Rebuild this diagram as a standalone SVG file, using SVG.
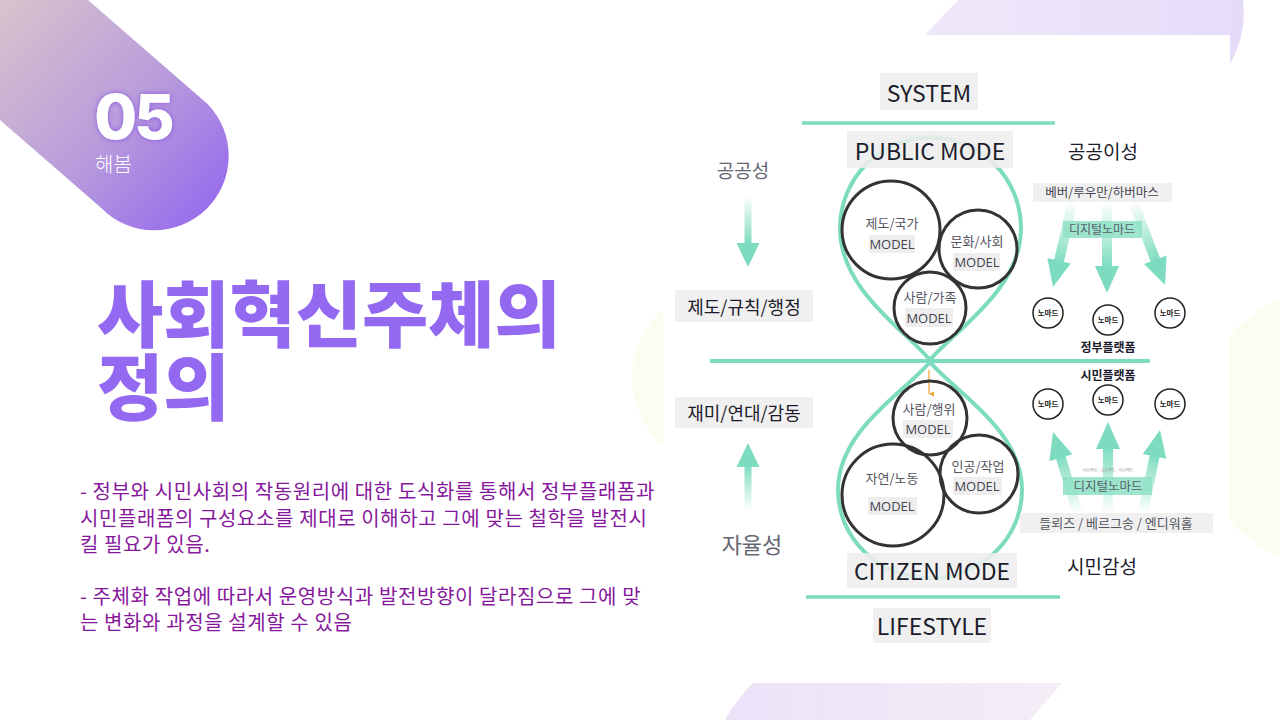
<svg xmlns="http://www.w3.org/2000/svg" width="1280" height="720" viewBox="0 0 1280 720">
<defs>
<linearGradient id="badgeGrad" x1="0" y1="0" x2="240" y2="230" gradientUnits="userSpaceOnUse">
<stop offset="0" stop-color="#d8c4cc"/>
<stop offset="0.5" stop-color="#b99ddb"/>
<stop offset="1" stop-color="#9060f0"/>
</linearGradient>
<linearGradient id="lavTop" x1="0" y1="0" x2="1" y2="0">
<stop offset="0" stop-color="#efe8f8"/>
<stop offset="1" stop-color="#e6dcfa"/>
</linearGradient>
<linearGradient id="lavBot" x1="0" y1="0" x2="1" y2="0">
<stop offset="0" stop-color="#ebe2f8"/>
<stop offset="1" stop-color="#f3eef6"/>
</linearGradient>
<linearGradient id="fadeTop" x1="0" y1="0" x2="0" y2="1">
<stop offset="0" stop-color="#7ddcbf" stop-opacity="0"/>
<stop offset="1" stop-color="#7ddcbf" stop-opacity="1"/>
</linearGradient>
<linearGradient id="fadeBot" x1="0" y1="0" x2="0" y2="1">
<stop offset="0" stop-color="#7ddcbf" stop-opacity="1"/>
<stop offset="1" stop-color="#7ddcbf" stop-opacity="0"/>
</linearGradient>
<filter id="glow" x="-30%" y="-30%" width="160%" height="160%">
<feDropShadow dx="0" dy="0" stdDeviation="2.5" flood-color="#7a3ee0" flood-opacity="0.8"/>
</filter>
<marker id="orangeHead" viewBox="0 0 10 10" refX="5" refY="10" markerWidth="5" markerHeight="5" orient="auto-start-reverse" markerUnits="userSpaceOnUse">
<path d="M0,0 L5,10 L10,0 Z" fill="#f0a030"/>
</marker>
<style>
.lat{font-family:"Open Sans","Noto Sans CJK KR",sans-serif}
.box{fill:#eeeeee;fill-opacity:0.88}
.label{font-family:"Noto Sans CJK KR","Open Sans",sans-serif;fill:#1c1c2c;text-anchor:middle}
.side{font-family:"Noto Sans CJK KR",sans-serif;fill:#666672;text-anchor:middle}
.circ{fill:none;stroke:#333333;stroke-width:3}
.ctext{font-family:"Noto Sans CJK KR",sans-serif;font-size:13px;fill:#555560;text-anchor:middle}
.mbox{fill:#eeeeee}
.mtext{font-family:"Open Sans",sans-serif;font-size:13px;fill:#444450;text-anchor:middle}
.teal{stroke:#7ddcbf;fill:none}
.head{fill:#7ddcbf}
.nomad{fill:#ffffff;stroke:#222222;stroke-width:1.5}
.ntext{font-family:"Noto Sans CJK KR",sans-serif;font-size:7.5px;font-weight:700;fill:#222;text-anchor:middle}
.body{font-family:"Noto Sans CJK KR",sans-serif;font-size:20px;letter-spacing:0.6px;fill:#86189c}
.title{font-family:"Noto Sans CJK KR",sans-serif;font-weight:900;font-size:72px;fill:#9369f2}
</style>
</defs>

<!-- background -->
<rect width="1280" height="720" fill="#ffffff"/>
<g id="bg-shapes">
<circle cx="722" cy="378" r="90" fill="#fdfcf0"/>
<circle cx="1335" cy="428" r="140" fill="#fdfcf0"/>
<path d="M958,0 L1243,0 C1246,22 1241,45 1230,64 L1230,35 L925,35 Z" fill="url(#lavTop)"/>
<path d="M753,683 L1062,683 L1030,720 L725,720 C733,706 742,694 753,683 Z" fill="url(#lavBot)"/>
<rect x="663" y="35" width="567" height="648" fill="#ffffff"/>
</g>

<!-- badge -->
<g id="badge">
<path d="M88,0 L0,0 L0,120 L101,207.8 A74,74 0 0 0 207.6,104 Z" fill="url(#badgeGrad)"/>
<text x="133" y="139" text-anchor="middle" font-family="Inter,'Noto Sans',sans-serif" font-weight="800" font-size="62" letter-spacing="-3" fill="#ffffff" filter="url(#glow)">05</text>
<text x="95" y="172" font-family="'Noto Sans CJK KR',sans-serif" font-weight="300" font-size="20" fill="#ffffff">해봄</text>
</g>

<!-- title -->
<g id="title">
<text class="title" x="97" y="341">사회혁신주체의</text>
<text class="title" x="97" y="414">정의</text>
</g>

<!-- body -->
<g id="body-text">
<text class="body" x="80" y="499">- 정부와 시민사회의 작동원리에 대한 도식화를 통해서 정부플래폼과</text>
<text class="body" x="80" y="526">시민플래폼의 구성요소를 제대로 이해하고 그에 맞는 철학을 발전시</text>
<text class="body" x="80" y="552">킬 필요가 있음.</text>
<text class="body" x="80" y="604">- 주체화 작업에 따라서 운영방식과 발전방향이 달라짐으로 그에 맞</text>
<text class="body" x="80" y="630">는 변화와 과정을 설계할 수 있음</text>
</g>

<!-- connectors / lines -->
<g id="connectors">
<line class="teal" x1="802" y1="123" x2="1055" y2="123" stroke-width="3.5"/>
<line class="teal" x1="710" y1="361" x2="1150" y2="361" stroke-width="4"/>
<line class="teal" x1="806" y1="597" x2="1060" y2="597" stroke-width="3.5"/>
<path class="teal" stroke-width="4" d="M930,360 C905,330 840,290 840,228 A90,90 0 0 1 1021,228 C1021,290 955,330 930,360 Z"/>
<path class="teal" stroke-width="4" d="M930,362 C955,392 1022,430 1022,490 A92,88 0 0 1 838,490 C838,430 905,392 930,362 Z"/>
<line x1="929" y1="370" x2="929" y2="394" stroke="#f0a030" stroke-width="1.2" marker-end="url(#orangeHead)"/>
<!-- left arrows -->
<g transform="translate(748,267)">
<rect x="-3.5" y="-72" width="7" height="50" fill="url(#fadeTop)"/>
<polygon class="head" points="0,0 -11.5,-24 11.5,-24"/>
</g>
<g transform="translate(748,443)">
<rect x="-3.5" y="22" width="7" height="45" fill="url(#fadeBot)"/>
<polygon class="head" points="0,0 -11.5,24 11.5,24"/>
</g>
<!-- top right arrows -->
<g transform="translate(1053,287) rotate(13)">
<rect x="-5" y="-87" width="10" height="62" fill="url(#fadeTop)"/>
<polygon class="head" points="0,0 -12,-27 12,-27"/>
</g>
<g transform="translate(1107,293)">
<rect x="-5" y="-91" width="10" height="66" fill="url(#fadeTop)"/>
<polygon class="head" points="0,0 -12,-27 12,-27"/>
</g>
<g transform="translate(1165,285) rotate(-21)">
<rect x="-5" y="-89" width="10" height="64" fill="url(#fadeTop)"/>
<polygon class="head" points="0,0 -12,-27 12,-27"/>
</g>
<!-- bottom right arrows -->
<g transform="translate(1053,432) rotate(-17)">
<rect x="-5" y="25" width="10" height="60" fill="url(#fadeBot)"/>
<polygon class="head" points="0,0 -12,27 12,27"/>
</g>
<g transform="translate(1108,422)">
<rect x="-5" y="25" width="10" height="66" fill="url(#fadeBot)"/>
<polygon class="head" points="0,0 -12,27 12,27"/>
</g>
<g transform="translate(1160,430) rotate(11.6)">
<rect x="-5" y="25" width="10" height="60" fill="url(#fadeBot)"/>
<polygon class="head" points="0,0 -12,27 12,27"/>
</g>
</g>

<!-- label nodes -->
<g id="system">
<rect class="box" x="880" y="73" width="98" height="37"/>
<text class="label lat" x="929" y="102" font-size="23">SYSTEM</text>
</g>
<g id="public-mode">
<rect class="box" x="847" y="131" width="166" height="37"/>
<text class="label lat" x="930" y="160" font-size="23">PUBLIC MODE</text>
</g>
<g id="citizen-mode">
<rect class="box" x="847" y="553" width="170" height="35"/>
<text class="label lat" x="932" y="580" font-size="23">CITIZEN MODE</text>
</g>
<g id="lifestyle">
<rect class="box" x="873" y="608" width="118" height="35"/>
<text class="label lat" x="932" y="635" font-size="23">LIFESTYLE</text>
</g>

<g id="model-jedo">
<circle class="circ" cx="891" cy="230" r="49" fill="#ffffff"/>
<text class="ctext" x="892" y="228">제도/국가</text>
<rect class="mbox" x="869" y="235" width="46" height="18"/>
<text class="mtext" x="892" y="249">MODEL</text>
</g>
<g id="model-munhwa">
<circle class="circ" cx="978" cy="249" r="39" fill="#ffffff"/>
<text class="ctext" x="977" y="246">문화/사회</text>
<rect class="mbox" x="953" y="253" width="47" height="18"/>
<text class="mtext" x="977" y="267">MODEL</text>
</g>
<g id="model-saram-family">
<circle class="circ" cx="930" cy="308" r="36" fill="#ffffff"/>
<text class="ctext" x="930" y="302">사람/가족</text>
<rect class="mbox" x="905" y="308" width="48" height="19"/>
<text class="mtext" x="929" y="323">MODEL</text>
</g>

<g id="model-saram-act">
<circle class="circ" cx="930" cy="418" r="37" fill="none"/>
<text class="ctext" x="929" y="414">사람/행위</text>
<rect class="mbox" x="903" y="420" width="50" height="18"/>
<text class="mtext" x="928" y="434">MODEL</text>
</g>
<g id="model-ingong">
<circle class="circ" cx="979" cy="474" r="39" fill="#ffffff"/>
<text class="ctext" x="978" y="471">인공/작업</text>
<rect class="mbox" x="953" y="477" width="49" height="18"/>
<text class="mtext" x="977" y="491">MODEL</text>
</g>
<g id="model-jayeon">
<circle class="circ" cx="893" cy="495" r="51" fill="#ffffff"/>
<text class="ctext" x="892" y="483">자연/노동</text>
<rect class="mbox" x="868" y="497" width="49" height="18"/>
<text class="mtext" x="892" y="511">MODEL</text>
</g>

<g id="left-labels">
<text class="side" x="743" y="178" font-size="19">공공성</text>
<rect class="box" x="675" y="290" width="138" height="32"/>
<text class="label" x="744" y="314" font-size="18">제도/규칙/행정</text>
<rect class="box" x="675" y="397" width="138" height="31"/>
<text class="label" x="744" y="420" font-size="18">재미/연대/감동</text>
<text class="side" x="752" y="553" font-size="22">자율성</text>
</g>

<g id="right-top">
<text class="label" x="1103" y="159" font-size="19">공공이성</text>
<rect class="box" x="1033" y="183" width="139" height="19"/>
<text class="label" x="1102" y="197" font-size="12.5" style="fill:#444450">베버/루우만/하버마스</text>
<rect x="1063" y="221" width="79" height="17" fill="#8ee0c6" fill-opacity="0.85"/>
<text class="label" x="1102" y="234" font-size="12" style="fill:#55606a">디지털노마드</text>
</g>
<g id="nomad-top-1"><circle class="nomad" cx="1048" cy="313" r="15"/><text class="ntext" x="1048" y="316">노마드</text></g>
<g id="nomad-top-2"><circle class="nomad" cx="1108" cy="320" r="15"/><text class="ntext" x="1108" y="323">노마드</text></g>
<g id="nomad-top-3"><circle class="nomad" cx="1170" cy="313" r="15"/><text class="ntext" x="1170" y="316">노마드</text></g>
<g id="gov-platform"><text class="label" x="1108" y="352" font-size="12" font-weight="700">정부플랫폼</text></g>

<g id="citizen-platform"><text class="label" x="1108" y="380" font-size="12" font-weight="700">시민플랫폼</text></g>
<g id="nomad-bot-1"><circle class="nomad" cx="1048" cy="404" r="15"/><text class="ntext" x="1048" y="407">노마드</text></g>
<g id="nomad-bot-2"><circle class="nomad" cx="1108" cy="400" r="15"/><text class="ntext" x="1108" y="403">노마드</text></g>
<g id="nomad-bot-3"><circle class="nomad" cx="1170" cy="404" r="15"/><text class="ntext" x="1170" y="407">노마드</text></g>

<g id="right-bottom">
<text x="1108" y="472" font-family="'Noto Sans CJK KR',sans-serif" font-size="4" fill="#999" text-anchor="middle">서브젝트 - 오브젝트 - 서브젝트</text>
<rect x="1063" y="477" width="89" height="18" fill="#8ee0c6" fill-opacity="0.85"/>
<text class="label" x="1108" y="491" font-size="12.5" style="fill:#55606a">디지털노마드</text>
<rect class="box" x="1020" y="513" width="193" height="20"/>
<text class="label" x="1116" y="528" font-size="13" style="fill:#555560">들뢰즈 / 베르그송 / 엔디워홀</text>
<text class="label" x="1102" y="574" font-size="19">시민감성</text>
</g>
</svg>
